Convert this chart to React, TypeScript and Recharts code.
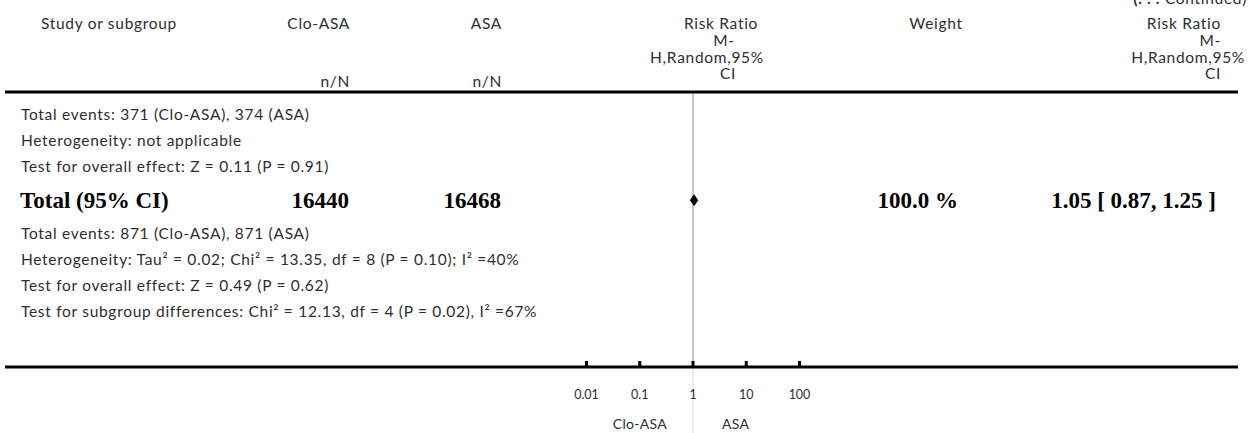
import React from "react";
import { ComposedChart, Scatter, XAxis, YAxis, ReferenceLine } from "recharts";

// axis
const ticks = [0.01, 0.1, 1, 10, 100];
const tickLabels = ["0.01", "0.1", "1", "10", "100"];
const favourLabels = ["Clo-ASA", "ASA"];

// header
const groupNames = ["Clo-ASA", "ASA"];
const effectHeader = ["Risk Ratio", "M-", "H,Random,95%", "CI"];

// table rows
const subgroupLines = [
  "Total events: 371 (Clo-ASA), 374 (ASA)",
  "Heterogeneity: not applicable",
  "Test for overall effect: Z = 0.11 (P = 0.91)",
];
const totalLabel = "Total (95% CI)";
const totalN = [16440, 16468];
const totalWeight = 100.0;
const totalRR = { rr: 1.05, lo: 0.87, hi: 1.25 };
const overallLines = [
  "Total events: 871 (Clo-ASA), 871 (ASA)",
  "Heterogeneity: Tau² = 0.02; Chi² = 13.35, df = 8 (P = 0.10); I² =40%",
  "Test for overall effect: Z = 0.49 (P = 0.62)",
  "Test for subgroup differences: Chi² = 12.13, df = 4 (P = 0.02), I² =67%",
];

const W = 1253;
const H = 433;
const plotLeft = 5;
const plotRight = 1238;
const plotTop = 92;
const axisY = 367;
const xOne = 693;
const decade = 53.25;
const rowPx = 26;
const firstRowY = 115;

const xDomain = [
  Math.pow(10, -(xOne - plotLeft) / decade),
  Math.pow(10, (plotRight - xOne) / decade),
];
const yDomain = [(plotTop - firstRowY) / rowPx, (axisY - firstRowY) / rowPx];

const font = "Lato, 'Open Sans', sans-serif";
const serif = "'Liberation Serif', 'DejaVu Serif', serif";
const grey = "#2e2e2e";
const bodyText = { fontFamily: font, fontSize: 15.5, letterSpacing: 0.7, fill: grey };

type Row = { kind: "text" | "total"; text: string };
const rows: Row[] = [
  ...subgroupLines.map((t) => ({ kind: "text" as const, text: t })),
  { kind: "total", text: totalLabel },
  ...overallLines.map((t) => ({ kind: "text" as const, text: t })),
];

// row centres in row units (the bold total row is taller)
let acc = 0;
const rowPoints = rows.map((r, i) => {
  const h = r.kind === "total" ? 1.55 : 1;
  const center = acc + h / 2 - 0.5;
  acc += h;
  return { x: 1, y: center, idx: i, ...r };
});
const totalY = rowPoints.find((r) => r.kind === "total")!.y;
const diamond = [{ x: totalRR.rr, y: totalY, lo: totalRR.lo, hi: totalRR.hi }];

const fmtRR = (v: number) => v.toFixed(2);

function RowShape(props: any) {
  const { cy, payload } = props;
  if (payload.kind === "total") {
    const st = { fontFamily: serif, fontWeight: 700, fontSize: 23, fill: "#000" };
    return (
      <g>
        <text x={20} y={cy} dy="0.35em" style={st}>{payload.text}</text>
        <text x={349} y={cy} dy="0.35em" textAnchor="end" style={st}>{String(totalN[0])}</text>
        <text x={501} y={cy} dy="0.35em" textAnchor="end" style={st}>{String(totalN[1])}</text>
        <text x={958} y={cy} dy="0.35em" textAnchor="end" style={st}>{totalWeight.toFixed(1)} %</text>
        <text x={1216} y={cy} dy="0.35em" textAnchor="end" style={st}>
          {`${fmtRR(totalRR.rr)} [ ${fmtRR(totalRR.lo)}, ${fmtRR(totalRR.hi)} ]`}
        </text>
      </g>
    );
  }
  return (
    <text x={21} y={cy} dy="0.35em" style={bodyText}>
      {payload.text}
    </text>
  );
}

function DiamondShape(props: any) {
  const { cx, cy, payload } = props;
  const l = cx - (Math.log10(payload.x) - Math.log10(payload.lo)) * decade;
  const r = cx + (Math.log10(payload.hi) - Math.log10(payload.x)) * decade;
  return <polygon points={`${l},${cy} ${cx},${cy - 6} ${r},${cy} ${cx},${cy + 6}`} fill="#000" />;
}

function Tick(props: any) {
  const { x, y, payload } = props;
  const i = ticks.indexOf(payload.value);
  return (
    <g>
      {payload.value === 1 && <line x1={x} x2={x} y1={y + 2} y2={H} stroke="#ddd" strokeWidth={1} />}
      <line x1={x} x2={x} y1={y - 6} y2={y} stroke="#000" strokeWidth={3} />
      <text x={x} y={y + 28} dy="0.35em" textAnchor="middle" style={{ fontFamily: font, fontSize: 12.5, fill: grey }}>
        {tickLabels[i]}
      </text>
    </g>
  );
}

// one header text line; x is the anchor, y the line centre
const hdr = (x: number, y: number, anchor: "start" | "middle" | "end", text: React.ReactNode, key: string, size = 15.5) => (
  <text
    key={key}
    x={x}
    y={y}
    dy="0.35em"
    textAnchor={anchor}
    style={{ fontFamily: font, fontSize: size, letterSpacing: size > 15 ? 0.7 : 0.3, fill: grey }}
  >
    {text}
  </text>
);

export default function App() {
  return (
    <div style={{ position: "absolute", left: 0, top: 0, width: W, height: H, background: "#fff" }}>
      <ComposedChart
        width={W}
        height={H}
        margin={{ top: plotTop, left: plotLeft, right: W - plotRight, bottom: 0 }}
      >
        <XAxis
          dataKey="x"
          type="number"
          scale="log"
          domain={xDomain}
          allowDataOverflow
          ticks={ticks}
          height={H - axisY}
          axisLine={{ stroke: "#000", strokeWidth: 3 }}
          tickLine={false}
          tickSize={0}
          tickMargin={0}
          tick={<Tick />}
          interval={0}
        />
        <YAxis dataKey="y" type="number" domain={yDomain} allowDataOverflow reversed hide />
        <ReferenceLine x={1} stroke="#8c8c8c" strokeWidth={1} />
        <ReferenceLine y={yDomain[0]} stroke="#000" strokeWidth={3} />
        <Scatter data={rowPoints} shape={<RowShape />} isAnimationActive={false} />
        <Scatter data={diamond} shape={<DiamondShape />} isAnimationActive={false} />
      </ComposedChart>
      <svg width={W} height={H} style={{ position: "absolute", left: 0, top: 0, pointerEvents: "none" }}>
        {hdr(1247, -1, "end", <><tspan fontWeight={700}>(. . .</tspan> Continued)</>, "cont")}
        {hdr(109, 24, "middle", "Study or subgroup", "study")}
        {hdr(350, 24, "end", groupNames[0], "g1")}
        {hdr(502, 24, "end", groupNames[1], "g2")}
        {hdr(350, 82, "end", "n/N", "n1")}
        {hdr(502, 82, "end", "n/N", "n2")}
        {hdr(721, 24, "middle", effectHeader[0], "l0")}
        {hdr(724, 41, "middle", effectHeader[1], "l1")}
        {hdr(707, 58, "middle", effectHeader[2], "l2")}
        {hdr(728, 74, "middle", effectHeader[3], "l3")}
        {hdr(936, 24, "middle", "Weight", "w")}
        {hdr(1221, 24, "end", effectHeader[0], "r0")}
        {hdr(1221, 41, "end", effectHeader[1], "r1")}
        {hdr(1245, 58, "end", effectHeader[2], "r2")}
        {hdr(1221, 74, "end", effectHeader[3], "r3")}
        {hdr(667, 424, "end", favourLabels[0], "f1", 14)}
        {hdr(722, 424, "start", favourLabels[1], "f2", 14)}
      </svg>
    </div>
  );
}
